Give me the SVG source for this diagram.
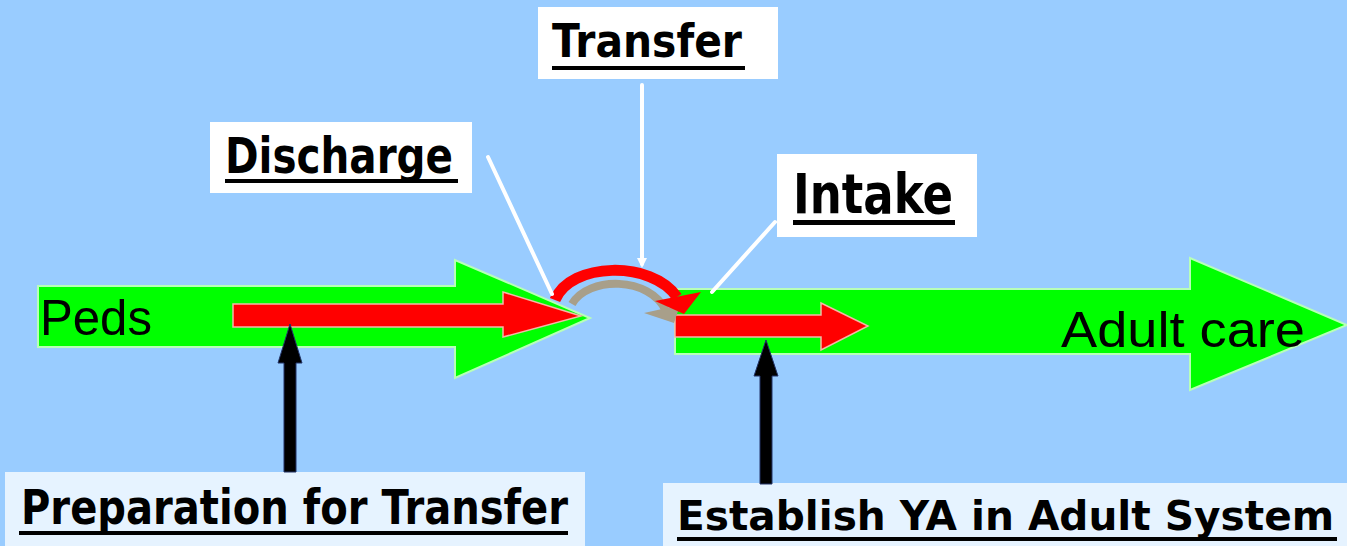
<svg xmlns="http://www.w3.org/2000/svg" width="1347" height="546" viewBox="0 0 1347 546">
<style>
.green{fill:#00FF00;stroke:#B8FFB8;stroke-width:2;stroke-linejoin:miter}
.red{fill:#FF0000;stroke:#F4B8A8;stroke-width:1.5}
.box{fill:#FFFFFF}
.pbox{fill:#E6F3FF}
.lbl{font-family:"DejaVu Sans",Verdana,sans-serif;font-weight:bold;fill:#000}
.plain{font-family:"Liberation Sans",Arial,sans-serif;fill:#000}
.ul{fill:#000}
.pointer{stroke:#FFFFFF;stroke-width:4;fill:none;stroke-linecap:round}
.blk{fill:#000;stroke:#223366;stroke-width:1}
</style>
<rect width="1347" height="546" fill="#99CCFF"/>
<g id="peds">
<polygon class="green" points="38,286 455,286 455,260 590,318 455,378 455,347 38,347"/>
<text class="plain" x="40" y="335" font-size="50" textLength="112" lengthAdjust="spacingAndGlyphs">Peds</text>
<polygon class="red" points="233,304 503,304 503,292 581,316 503,337 503,327 233,327"/>
</g>
<g id="adult-care">
<polygon class="green" points="675,289 1190,289 1190,258 1347,325 1190,390 1190,354 675,354"/>
<text class="plain" x="1061" y="347" font-size="50" textLength="244" lengthAdjust="spacingAndGlyphs">Adult care</text>
<polygon class="red" points="675,315 821,315 821,303 868,326 821,350 821,337 675,337"/>
</g>
<g id="transfer-curve">
<path d="M572,304 C588,276 650,276 666,311" fill="none" stroke="#A89F8A" stroke-width="8"/>
<polygon points="644,313 680,305 674,323" fill="#A89F8A"/>
<path d="M555,300 C570,262 652,260 677,297" fill="none" stroke="#FF0000" stroke-width="11"/>
<polygon points="655,301 701,292 684,314" fill="#FF0000"/>
</g>
<g id="transfer">
<rect class="box" x="538" y="7" width="240" height="72"/>
<text class="lbl" x="552" y="57" font-size="46" textLength="190" lengthAdjust="spacingAndGlyphs">Transfer</text>
<rect class="ul" x="552" y="66" width="193" height="4"/>
</g>
<g id="discharge">
<rect class="box" x="210" y="122" width="262" height="71"/>
<text class="lbl" x="225" y="173" font-size="50" textLength="228" lengthAdjust="spacingAndGlyphs">Discharge</text>
<rect class="ul" x="225" y="179" width="233" height="4"/>
</g>
<g id="intake">
<rect class="box" x="777" y="154" width="200" height="83"/>
<text class="lbl" x="793" y="213" font-size="56" textLength="160" lengthAdjust="spacingAndGlyphs">Intake</text>
<rect class="ul" x="793" y="220" width="162" height="5"/>
</g>
<g id="preparation">
<rect class="pbox" x="5" y="472" width="580" height="74"/>
<text class="lbl" x="21" y="524" font-size="48" textLength="547" lengthAdjust="spacingAndGlyphs">Preparation for Transfer</text>
<rect class="ul" x="19" y="531" width="549" height="4"/>
</g>
<g id="establish">
<rect class="pbox" x="663" y="483" width="684" height="63"/>
<text class="lbl" x="677" y="530" font-size="40" textLength="657" lengthAdjust="spacingAndGlyphs">Establish YA in Adult System</text>
<rect class="ul" x="677" y="537" width="660" height="4"/>
</g>
<g id="connectors">
<line class="pointer" x1="642" y1="85" x2="642" y2="264"/>
<polygon points="637,258 647,258 642,268" fill="#FFFFFF"/>
<line class="pointer" x1="488" y1="157" x2="552" y2="294"/>
<line class="pointer" x1="775" y1="222" x2="712" y2="292"/>
<polygon class="blk" points="284,472 284,363 278,363 290,324 302,363 296,363 296,472"/>
<polygon class="blk" points="760,484 760,376 754,376 766,340 778,376 772,376 772,484"/>
</g>
</svg>
